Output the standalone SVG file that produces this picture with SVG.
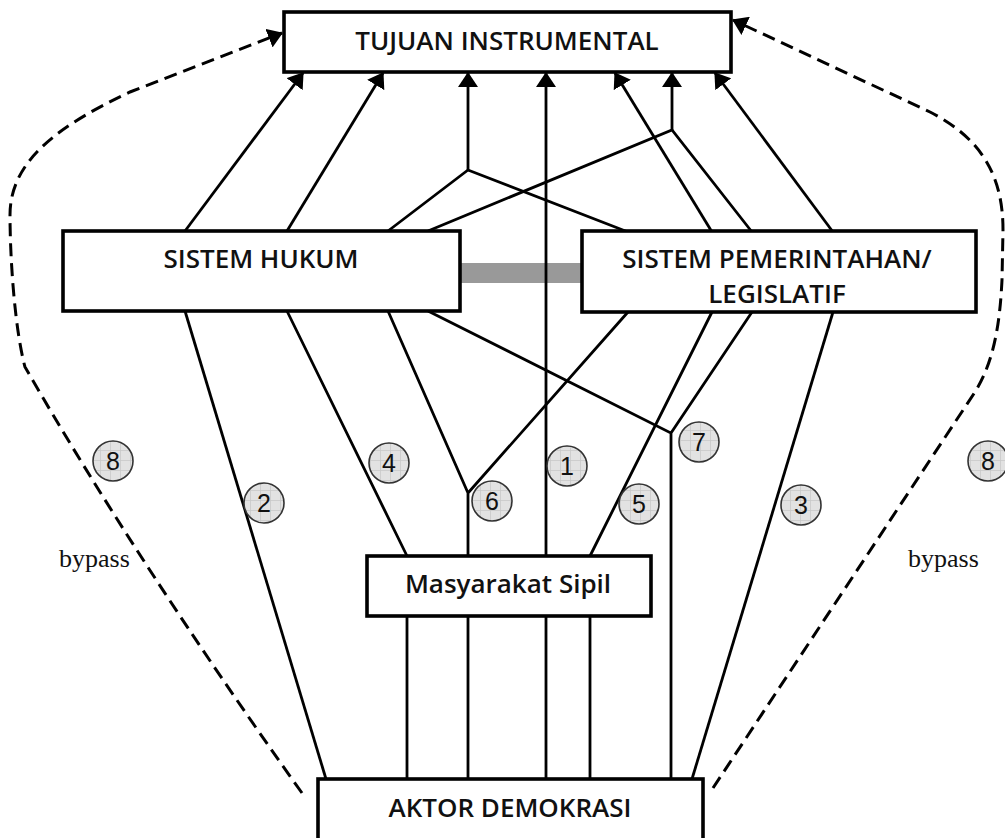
<svg xmlns="http://www.w3.org/2000/svg" width="1005" height="838" viewBox="0 0 1005 838">
<defs>
<style>
.box{fill:#fff;stroke:#000;stroke-width:3.6}
.lbl{font-family:"Open Sans","Liberation Sans",sans-serif;font-weight:600;font-size:26px;fill:#111;text-anchor:middle}
.ln{fill:none;stroke:#000;stroke-width:2.8;stroke-linejoin:miter}
.arr{marker-end:url(#ah)}
.dash{fill:none;stroke:#000;stroke-width:3;stroke-dasharray:13 7;marker-end:url(#ah)}
.num circle{fill:url(#grid);stroke:#333;stroke-width:1.6}
.num text{font-family:"Liberation Sans",sans-serif;font-size:25px;fill:#111;text-anchor:middle}
.byp{font-family:"Liberation Serif",serif;font-size:26px;fill:#111}
</style>
<marker id="ah" viewBox="0 0 15 20" refX="14" refY="10" markerWidth="15" markerHeight="20" markerUnits="userSpaceOnUse" orient="auto"><path d="M0,0 L15,10 L0,20 z" fill="#000"/></marker>
<pattern id="grid" width="10" height="10" patternUnits="userSpaceOnUse"><rect width="10" height="10" fill="#e2e2e2"/><path d="M0,0.5H10M0.5,0V10" stroke="#c9c9c9" stroke-width="0.8"/></pattern>
</defs>
<rect width="1005" height="838" fill="#fff"/>
<rect id="bar" x="460" y="263" width="122" height="20" fill="#999"/>
<g id="connectors">
<path class="ln arr" d="M185,231 L303,73"/>
<path class="ln arr" d="M287,231 L383,73"/>
<path class="ln" d="M388,231 L468,170 L628,232"/>
<path class="ln arr" d="M468,170 L468,73"/>
<path class="ln arr" d="M546,779 L546,73"/>
<path class="ln arr" d="M712,232 L615,73"/>
<path class="ln" d="M428,231 L672,130 L752,232"/>
<path class="ln arr" d="M672,130 L672,73"/>
<path class="ln arr" d="M833,232 L715,73"/>
<path class="ln" d="M185,311 L326,779"/>
<path class="ln" d="M287,311 L407,556 M407,616 L407,779"/>
<path class="ln" d="M388,311 L468,493 L468,779 M628,312 L468,493"/>
<path class="ln" d="M428,311 L671,433 L671,779 M752,312 L671,433"/>
<path class="ln" d="M712,312 L590,556 M590,616 L590,779"/>
<path class="ln" d="M833,312 L692,779"/>
<path class="dash" d="M302,793 Q136,560 25,367 C15,330 10,260 10,215 C10,160 60,125 130,92 L282,33"/>
<path class="dash" d="M713,788 L975,392 C995,360 1000,320 1002,280 L1003,230 C1003,180 985,140 930,112 L733,20"/>
</g>
<g id="tujuan"><rect class="box" x="284" y="12" width="447" height="60"/><text class="lbl" x="507" y="50">TUJUAN INSTRUMENTAL</text></g>
<g id="hukum"><rect class="box" x="63" y="231" width="397" height="80"/><text class="lbl" x="261" y="268">SISTEM HUKUM</text></g>
<g id="pemerintahan"><rect class="box" x="582" y="231" width="394" height="81"/><text class="lbl" x="777" y="268">SISTEM PEMERINTAHAN/</text><text class="lbl" x="777" y="303">LEGISLATIF</text></g>
<g id="masyarakat"><rect class="box" x="367" y="556" width="284" height="60"/><text class="lbl" x="508" y="593">Masyarakat Sipil</text></g>
<g id="aktor"><rect class="box" x="318" y="779" width="385" height="80"/><text class="lbl" x="510" y="817">AKTOR DEMOKRASI</text></g>
<g id="labels" class="num">
<circle cx="113" cy="461" r="20"/><text x="113" y="470">8</text>
<circle cx="264" cy="503" r="20"/><text x="264" y="512">2</text>
<circle cx="389" cy="463" r="20"/><text x="389" y="472">4</text>
<circle cx="492" cy="501" r="20"/><text x="492" y="510">6</text>
<circle cx="567" cy="466" r="20"/><text x="567" y="475">1</text>
<circle cx="639" cy="504" r="20"/><text x="639" y="513">5</text>
<circle cx="699" cy="442" r="20"/><text x="699" y="451">7</text>
<circle cx="801" cy="505" r="20"/><text x="801" y="514">3</text>
<circle cx="988" cy="461" r="20"/><text x="988" y="470">8</text>
</g>
<text class="byp" x="59" y="567">bypass</text>
<text class="byp" x="908" y="567">bypass</text>
</svg>
